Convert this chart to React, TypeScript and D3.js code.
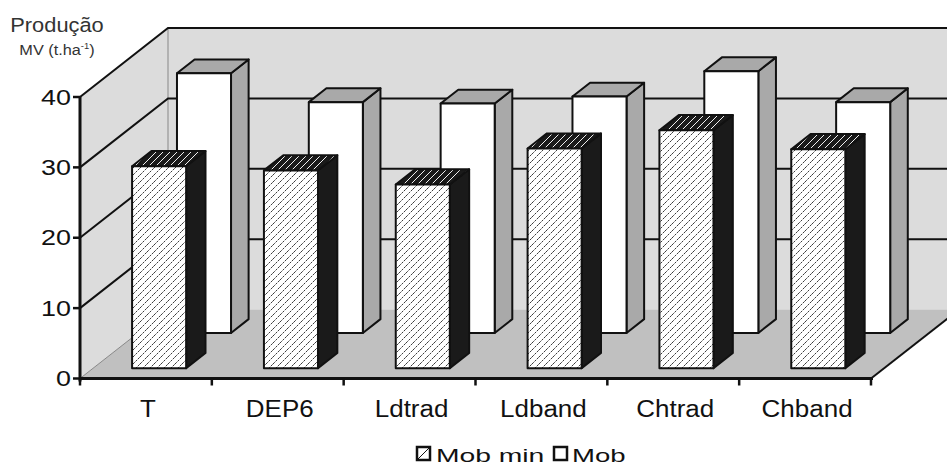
import React from "react";
import * as d3 from "d3";

const categories = ["T", "DEP6", "Ldtrad", "Ldband", "Chtrad", "Chband"];
const mobMin = [28.7, 28.1, 26.1, 31.2, 33.8, 31.1];
const mob = [36.9, 32.8, 32.6, 33.6, 37.2, 32.8];
const yTicks = [0, 10, 20, 30, 40];
const legendLabels = ["Mob min", "Mob"];

const W = 947;
const H = 469;
const DX = 88;
const DY = 69;

export default function App() {
  const x = d3.scaleBand<string>().domain(categories).range([80, 871]).padding(0);
  const y = d3.scaleLinear().domain([0, 40]).range([378.5, 97]);
  const bw = x.bandwidth() * 0.41;
  const P = (xf: number, v: number, d: number): [number, number] => [xf + d * DX, y(v) - d * DY];
  const poly = (pts: [number, number][]) => pts.map((p) => p.join(",")).join(" ");
  const y0 = y(0);
  const xL = 80;
  const xR = 871;

  const bar = (cat: string, v: number, da: number, db: number, kind: number, key: string) => {
    const xb = (x(cat) as number) + (x.bandwidth() - bw) / 2;
    const front = [P(xb, v, da), P(xb + bw, v, da), P(xb + bw, 0, da), P(xb, 0, da)] as [number, number][];
    const top = [P(xb, v, da), P(xb + bw, v, da), P(xb + bw, v, db), P(xb, v, db)] as [number, number][];
    const side = [P(xb + bw, v, da), P(xb + bw, 0, da), P(xb + bw, 0, db), P(xb + bw, v, db)] as [number, number][];
    const sideFill = kind === 0 ? "#1a1a1a" : "#a9a9a9";
    const topFill = kind === 0 ? "url(#hatchTop)" : "#a9a9a9";
    const frontFill = kind === 0 ? "url(#hatch)" : "#ffffff";
    return (
      <g key={key} stroke="#111" strokeWidth={2} strokeLinejoin="round">
        <polygon points={poly(side)} fill={sideFill} />
        <polygon points={poly(top)} fill={topFill} />
        <polygon points={poly(front)} fill={frontFill} />
      </g>
    );
  };

  const stretchText = (
    tx: number,
    ty: number,
    sx: number,
    anchor: string,
    fs: number,
    content: React.ReactNode,
    key: string,
    fill = "#111"
  ) => (
    <g key={key} transform={`translate(${tx},${ty}) scale(${sx},1)`}>
      <text textAnchor={anchor} fontSize={fs} fontFamily="'Liberation Sans', Arial, sans-serif" fill={fill}>
        {content}
      </text>
    </g>
  );

  return (
    <svg
      width={W}
      height={H}
      style={{ position: "absolute", left: 0, top: 0, background: "#fff" }}
    >
      <defs>
        <pattern id="hatch" patternUnits="userSpaceOnUse" width={7} height={7}>
          <rect width={7} height={7} fill="#fff" />
          <path d="M-1,1 l2,-2 M0,7 l7,-7 M6,8 l2,-2" stroke="#222" strokeWidth={0.9} strokeDasharray="2.5,1" />
        </pattern>
        <pattern id="hatchTop" patternUnits="userSpaceOnUse" width={7} height={7}>
          <rect width={7} height={7} fill="#1a1a1a" />
          <path d="M-1,1 l2,-2 M0,7 l7,-7 M6,8 l2,-2" stroke="#eee" strokeWidth={1} />
        </pattern>
        <clipPath id="clipAll">
          <rect x={0} y={0} width={W} height={H} />
        </clipPath>
      </defs>

      <g clipPath="url(#clipAll)">
        {/* back wall */}
        <rect x={xL + DX} y={y(40) - DY} width={xR - xL + 10} height={y0 - y(40)} fill="#dcdcdc" />
        {/* left wall */}
        <polygon points={poly([P(xL, 0, 0), P(xL, 40, 0), P(xL, 40, 1), P(xL, 0, 1)])} fill="#dcdcdc" />
        {/* floor */}
        <polygon points={poly([P(xL, 0, 0), P(xR, 0, 0), P(xR, 0, 1), P(xL, 0, 1)])} fill="#c0c0c0" />
        {/* corner & floor edges */}
        <line x1={xL + DX} y1={y(40) - DY} x2={xL + DX} y2={y0 - DY} stroke="#888" strokeWidth={1} />
        <line x1={xL} y1={y0} x2={xL + DX} y2={y0 - DY} stroke="#888" strokeWidth={1} />
        {/* gridlines */}
        {yTicks.filter((t) => t > 0).map((t) => (
          <g key={"g" + t} stroke="#111" strokeWidth={2} fill="none">
            <polyline points={poly([P(xL, t, 0), P(xL, t, 1), [W + 20, y(t) - DY]])} />
          </g>
        ))}
        {/* floor right edge */}
        <line x1={xR} y1={y0} x2={xR + DX} y2={y0 - DY} stroke="#111" strokeWidth={2} />

        {/* back row bars */}
        {categories.map((c, i) => bar(c, mob[i], 0.66, 0.86, 1, "b" + i))}
        {/* front row bars */}
        {categories.map((c, i) => bar(c, mobMin[i], 0.15, 0.37, 0, "f" + i))}

        {/* axes */}
        <line x1={xL} y1={y0} x2={xR + 2} y2={y0} stroke="#111" strokeWidth={3} />
        <line x1={xL} y1={y(40)} x2={xL} y2={y0 + 3} stroke="#111" strokeWidth={3} />
        {yTicks.map((t) => (
          <line key={"yt" + t} x1={xL - 7} y1={y(t)} x2={xL} y2={y(t)} stroke="#111" strokeWidth={2.5} />
        ))}
        {[...categories.map((c) => x(c) as number), xR].map((v, i) => (
          <line key={"xt" + i} x1={v} y1={y0} x2={v} y2={y0 + 7} stroke="#111" strokeWidth={2.5} />
        ))}
        {yTicks.map((t) => stretchText(71, y(t) + 7.5, 1.25, "end", 21.5, String(t), "yl" + t))}
        {categories.map((c) =>
          stretchText((x(c) as number) + x.bandwidth() / 2 + 2, 417, 1.13, "middle", 23, c, "cl" + c)
        )}

        {/* title */}
        {stretchText(57, 32, 1.12, "middle", 19.5, "Produção", "t1", "#333")}
        {stretchText(57, 55, 1.05, "middle", 15.5,
          <>
            MV (t.ha<tspan fontSize={9} dy={-6}>-1</tspan><tspan dy={6}>)</tspan>
          </>,
          "t2", "#333")}

        {/* legend */}
        <rect x={417} y={447} width={13} height={13} fill="#fff" stroke="#111" strokeWidth={2.5} />
        <line x1={417} y1={460} x2={430} y2={447} stroke="#111" strokeWidth={1} />
        {stretchText(436, 461.5, 1.52, "start", 18.6, legendLabels[0], "lg0")}
        <rect x={554} y={447} width={13} height={13} fill="#fff" stroke="#111" strokeWidth={2.5} />
        {stretchText(572, 461.5, 1.48, "start", 18.6, legendLabels[1], "lg1")}
      </g>
    </svg>
  );
}
